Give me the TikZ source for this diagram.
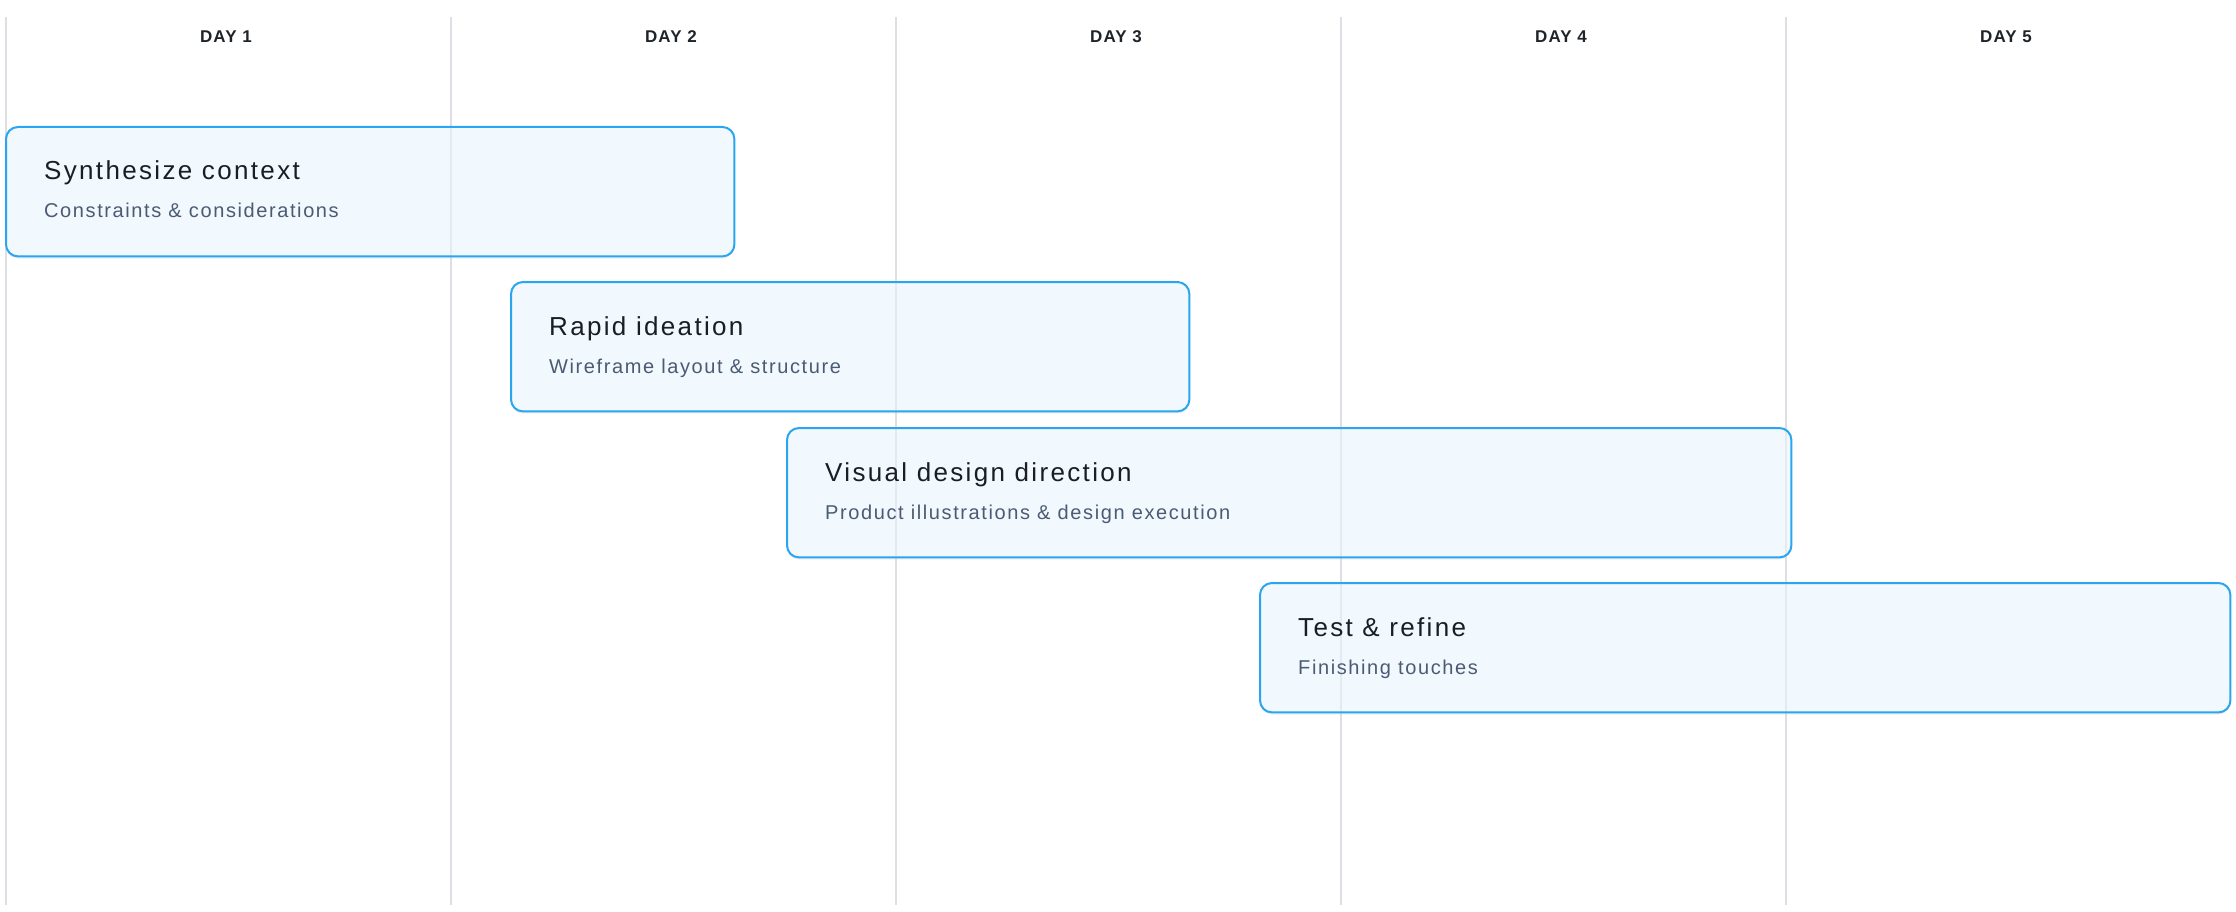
\documentclass[tikz,border=0pt]{standalone}
\usepackage{fontspec}
\setmainfont{Liberation Sans}
\newfontfamily\titlefont[LetterSpace=9]{Liberation Sans}
\newfontfamily\subfont[LetterSpace=8]{Liberation Sans}
\newfontfamily\dayfont[LetterSpace=6]{Liberation Sans}
\usetikzlibrary{shadows}
\definecolor{gridc}{HTML}{DCE0E5}
\definecolor{barborder}{HTML}{2AA5EF}
\definecolor{barfill}{HTML}{F1F8FE}
\definecolor{titlec}{HTML}{1A1E22}
\definecolor{subc}{HTML}{4B5B73}
\definecolor{dayc}{HTML}{1F2428}
\tikzset{
  gridline/.style={draw=gridc, line width=1.5pt},
  daylabel/.style={anchor=base, inner sep=0pt, text=dayc, font=\dayfont\fontsize{17}{20}\selectfont\bfseries},
  bar/.style={anchor=north west, inner sep=0pt, rounded corners=12pt, draw=none,
    fill=barfill,
    drop shadow={opacity=0.12, shadow xshift=0pt, shadow yshift=-2.5pt}},
  barborder/.style={draw=barborder, line width=2pt, rounded corners=12pt},
  bartitle/.style={anchor=base west, inner sep=0pt, text=titlec, font=\titlefont\fontsize{26}{30}\selectfont},
  barsub/.style={anchor=base west, inner sep=0pt, text=subc, font=\subfont\fontsize{20}{24}\selectfont},
}
\begin{document}
\begin{tikzpicture}[x=1pt,y=-1pt]
\useasboundingbox (0,0) rectangle (2236,912);
% grid lines
\foreach \i/\x in {1/6,2/451,3/896,4/1341,5/1786}{
  \coordinate (gt\i) at (\x,17);
  \coordinate (gb\i) at (\x,905);
  \draw[gridline] (gt\i) -- (gb\i);
}
% day labels
\node[daylabel] (d1) at (226,43) {DAY 1};
\node[daylabel] (d2) at (671,43) {DAY 2};
\node[daylabel] (d3) at (1116,43) {DAY 3};
\node[daylabel] (d4) at (1561,43) {DAY 4};
\node[daylabel] (d5) at (2006,43) {DAY 5};
% bars (fill + shadow)
\node[bar, minimum width=728pt, minimum height=129pt] (b1) at (6,127) {};
\node[bar, minimum width=678pt, minimum height=129pt] (b2) at (511,282) {};
\node[bar, minimum width=1004pt, minimum height=129pt] (b3) at (787,428) {};
\node[bar, minimum width=970pt, minimum height=129pt] (b4) at (1260,583) {};
% grid lines seen through the bars
\foreach \i in {1,...,5}{
  \draw[gridline, draw opacity=0.55] (gt\i) -- (gb\i);
}
% bar borders
\foreach \b in {b1,b2,b3,b4}{
  \draw[barborder] (\b.north west) rectangle (\b.south east);
}
% texts
\node[bartitle] (t1) at ([shift={(38,53)}]b1.north west) {Synthesize context};
\node[barsub] (s1) at ([shift={(38,91)}]b1.north west) {Constraints \& considerations};
\node[bartitle] (t2) at ([shift={(38,53)}]b2.north west) {Rapid ideation};
\node[barsub] (s2) at ([shift={(38,91)}]b2.north west) {Wireframe layout \& structure};
\node[bartitle] (t3) at ([shift={(38,53)}]b3.north west) {Visual design direction};
\node[barsub] (s3) at ([shift={(38,91)}]b3.north west) {Product illustrations \& design execution};
\node[bartitle] (t4) at ([shift={(38,53)}]b4.north west) {Test \& refine};
\node[barsub] (s4) at ([shift={(38,91)}]b4.north west) {Finishing touches};
\end{tikzpicture}
\end{document}
